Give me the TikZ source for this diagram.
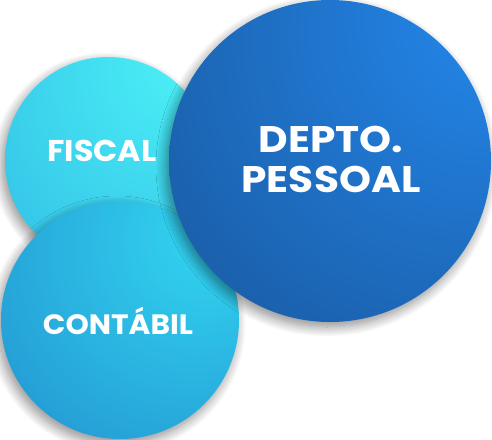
\documentclass[tikz,border=0pt]{standalone}
\usepackage{fontspec}
\setmainfont{Poppins}
\usetikzlibrary{shadows.blur}
\definecolor{fA}{HTML}{4CF2F7}
\definecolor{fB}{HTML}{29ACE0}
\definecolor{cA}{HTML}{33D8F2}
\definecolor{cB}{HTML}{1C7AC5}
\definecolor{dA}{HTML}{258CF3}
\definecolor{dB}{HTML}{164C8B}
\pgfdeclareradialshading{fiscalsh}{\pgfpoint{20bp}{26bp}}{color(0bp)=(fA); color(72bp)=(fB); color(100bp)=(fB)}
\pgfdeclareradialshading{contsh}{\pgfpoint{21bp}{20bp}}{color(0bp)=(cA); color(70bp)=(cB); color(100bp)=(cB)}
\pgfdeclareradialshading{deptsh}{\pgfpoint{32bp}{28bp}}{color(0bp)=(dA); color(70bp)=(dB); color(100bp)=(dB)}
\tikzset{
  bubble/.style={circle, inner sep=0pt,
    blur shadow={shadow blur radius=10pt, shadow xshift=-3pt, shadow yshift=-5pt, shadow opacity=45, shadow blur steps=12}},
  lbl/.style={text=white, align=center, inner sep=0pt}
}
\begin{document}
\begin{tikzpicture}[x=1pt,y=-1pt]
\useasboundingbox (0,0) rectangle (492,439);
\node[bubble, minimum size=206pt, shading=fiscalsh] (fiscal) at (108,160) {};
\node[bubble, minimum size=238pt, shading=contsh] (contabil) at (120,320) {};
\node[bubble, minimum size=322pt, shading=deptsh] (depto) at (330,161) {};
\node[lbl, font=\fontsize{30}{30}\bfseries] (tf) at (102,151) {\scalebox{1.06}[1]{FISCAL}};
\node[lbl, font=\fontsize{28}{28}\bfseries] (tc) at (118,321) {\scalebox{1.06}[1]{CONTÁBIL}};
\node[lbl, font=\fontsize{37}{40}\bfseries] (td) at (331,159) {\scalebox{1.1}[1]{DEPTO.}\\\scalebox{1.1}[1]{PESSOAL}};
\end{tikzpicture}
\end{document}
